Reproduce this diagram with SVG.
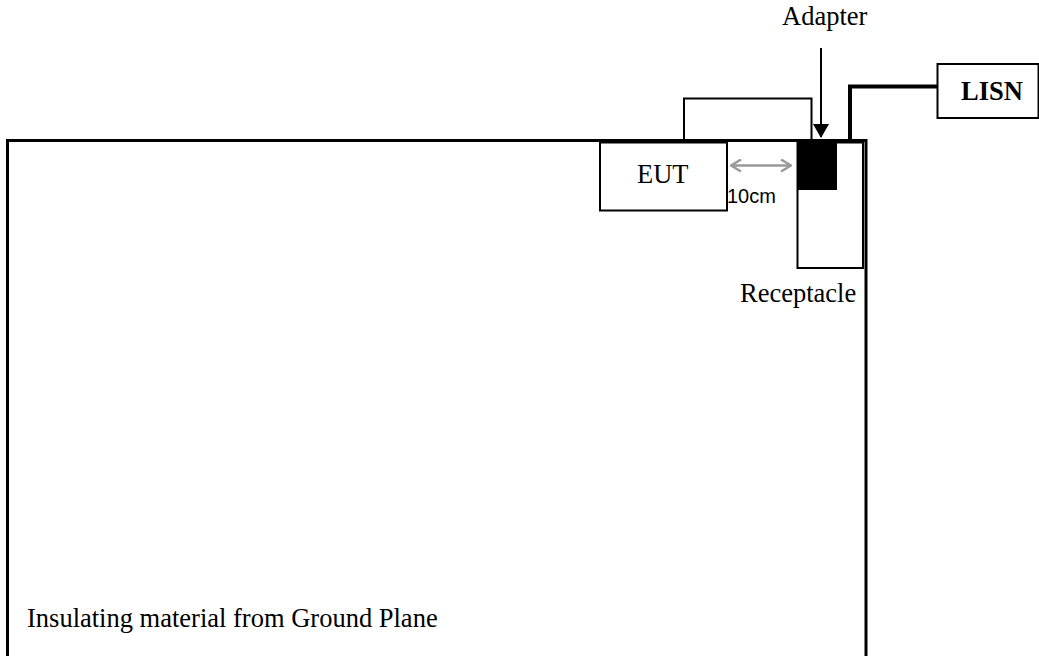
<svg xmlns="http://www.w3.org/2000/svg" width="1039" height="656" viewBox="0 0 1039 656">
<style>
.t{font-family:"Liberation Serif","Times New Roman",serif;font-size:26.5px;fill:#000}
.s{font-family:"Liberation Sans",Arial,sans-serif;font-size:20px;fill:#000}
.box{fill:#fff;stroke:#000;stroke-width:2}
.w{fill:none;stroke:#000;stroke-width:2}
</style>
<defs>
<marker id="ah" markerWidth="14" markerHeight="16" refX="13" refY="8" orient="auto" markerUnits="userSpaceOnUse">
<path d="M0,0 L14,8 L0,16 Z" fill="#000"/>
</marker>
<marker id="ga" markerWidth="12" markerHeight="14" refX="11" refY="7" orient="auto-start-reverse" markerUnits="userSpaceOnUse">
<path d="M1,1 L11,7 L1,13" fill="none" stroke="#999" stroke-width="2.5"/>
</marker>
</defs>
<g id="plane">
<rect x="7.5" y="140.5" width="858.5" height="520" fill="#fff" stroke="#000" stroke-width="3"/>
<text class="t" x="27" y="627">Insulating material from Ground Plane</text>
</g>
<g id="eut">
<rect class="box" x="600" y="142.5" width="127" height="68"/>
<text class="t" x="637" y="183">EUT</text>
</g>
<g id="receptacle">
<rect class="box" x="797.5" y="142.5" width="65.5" height="125.5"/>
<text class="t" x="740" y="302">Receptacle</text>
</g>
<g id="adapter">
<rect x="797" y="142" width="40" height="48" fill="#000"/>
<text class="t" x="782" y="25">Adapter</text>
</g>
<g id="lisn">
<rect class="box" x="937.5" y="64" width="101" height="54"/>
<text class="t" x="961" y="100" font-weight="bold">LISN</text>
</g>
<g id="connectors">
<polyline class="w" points="684,142 684,98.5 811.5,98.5 811.5,142"/>
<polyline fill="none" stroke="#000" stroke-width="4" points="850,141 850,86.5 937.5,86.5"/>
<line x1="821" y1="48" x2="821" y2="137" stroke="#000" stroke-width="2" marker-end="url(#ah)"/>
<line x1="731" y1="165.5" x2="791" y2="165.5" stroke="#999" stroke-width="2.5" marker-start="url(#ga)" marker-end="url(#ga)"/>
<text class="s" x="727" y="203">10cm</text>
</g>
</svg>
